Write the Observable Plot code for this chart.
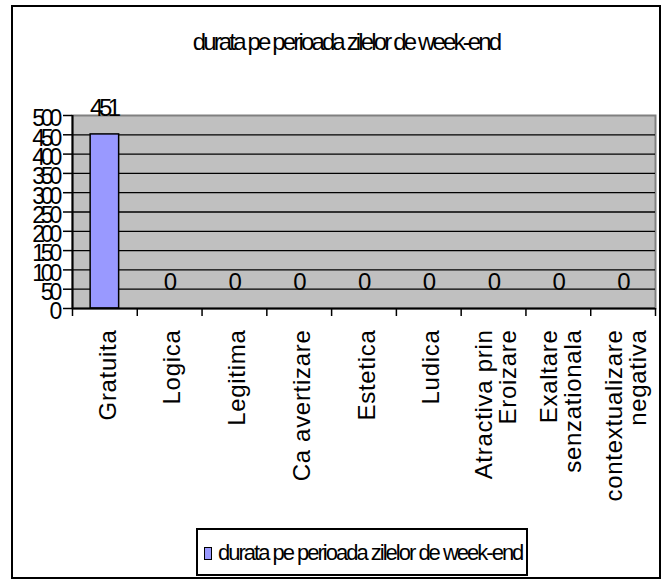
<!DOCTYPE html>
<html>
<head>
<meta charset="utf-8">
<script src="https://cdn.jsdelivr.net/npm/d3@7"></script>
<script src="https://cdn.jsdelivr.net/npm/@observablehq/plot@0.6"></script>
<style>
  html, body { margin: 0; padding: 0; background: white; }
  #wrap { position: relative; width: 666px; height: 583px; overflow: hidden; font-family: "Liberation Sans", Arial, sans-serif; color: black; }
  #chart { position: absolute; left: 0; top: 0; }
  #border { position: absolute; left: 11px; top: 5px; width: 650px; height: 574px; border: 2px solid black; box-sizing: border-box; pointer-events: none; }
  #title { position: absolute; left: 346px; top: 30px; transform: translateX(-50%); white-space: nowrap; font-size: 24px; line-height: 24px; letter-spacing: -2.85px; }
  #legend { position: absolute; left: 196px; top: 528px; width: 332px; height: 48px; border: 2px solid black; box-sizing: border-box; background: white; }
  #legend .sw { position: absolute; left: 6px; top: 16.5px; width: 8px; height: 13px; background: #9999FF; border: 1px solid black; box-sizing: border-box; }
  #legend .lt { position: absolute; left: 20px; top: 12px; white-space: nowrap; font-size: 22px; line-height: 22px; letter-spacing: -2px; }
  g[aria-description="ylabels"] text { letter-spacing: -4.2px; }
  g[aria-description="vlabels"] text { letter-spacing: -4.5px; }
  g[aria-description="xlabels"] text { letter-spacing: 0.7px; }
</style>
</head>
<body>
<div id="wrap">
  <div id="chart"></div>
  <div id="border"></div>
  <div id="title"></div>
  <div id="legend"><div class="sw"></div><div class="lt"></div></div>
</div>
<script>
// ---- data ----
const seriesName = "durata pe perioada zilelor de week-end";
const categories = ["Gratuita", "Logica", "Legitima", "Ca avertizare", "Estetica", "Ludica", "Atractiva prin\nEroizare", "Exaltare\nsenzationala", "contextualizare\nnegativa"];
const values = [451, 0, 0, 0, 0, 0, 0, 0, 0];
const yTicks = [0, 50, 100, 150, 200, 250, 300, 350, 400, 450, 500];

// ---- derived table ----
const rows = categories.map((c, i) => ({i, c, v: values[i]}));
const boundaries = [0, ...rows.map(d => d.i + 1)];

document.getElementById("title").textContent = seriesName;
document.querySelector("#legend .lt").textContent = seriesName;

const chart = Plot.plot({
  width: 666,
  height: 520,
  marginLeft: 72,
  marginRight: 11,
  marginTop: 115,
  marginBottom: 212,
  style: {fontFamily: "'Liberation Sans', Arial, sans-serif", fontSize: "23px", background: "transparent", overflow: "visible", color: "black"},
  x: {domain: [0, categories.length], axis: null},
  y: {domain: [0, 500], axis: null},
  marks: [
    Plot.frame({fill: "#C0C0C0", stroke: "#808080", strokeWidth: 2}),
    Plot.ruleY(yTicks.filter(t => t > 0 && t < 500), {y: d => d, stroke: "black", strokeWidth: 1.3}),
    Plot.rectY(rows.filter(d => d.v > 0), {x1: d => d.i + 0.28, x2: d => d.i + 0.72, y: "v", fill: "#9999FF", stroke: "black", strokeWidth: 1.5}),
    Plot.ruleX([0], {x: d => d, stroke: "black", strokeWidth: 2}),
    Plot.ruleY([0], {y: d => d, stroke: "black", strokeWidth: 2}),
    Plot.ruleY(yTicks, {y: d => d, x1: 0, x2: 0, insetLeft: -9, stroke: "black", strokeWidth: 1.5}),
    Plot.ruleX(boundaries, {x: d => d, y1: 0, y2: 0, insetBottom: -8, stroke: "black", strokeWidth: 1.5}),
    Plot.text(yTicks, {y: d => d, text: d => String(d), frameAnchor: "left", textAnchor: "end", dx: -14.5, dy: 3.5, fontSize: 23, ariaDescription: "ylabels"}),
    Plot.text(rows, {x: d => d.i + 0.5, y: "v", text: d => String(d.v), dx: -1.5, dy: -26, fontSize: 24, ariaDescription: "vlabels"}),
    Plot.text(rows, {x: d => d.i + 0.5, y: 0, text: "c", rotate: -90, textAnchor: "end", lineAnchor: "middle", lineHeight: 1.0, dx: 3, dy: 21, fontSize: 24, ariaDescription: "xlabels"})
  ]
});
document.getElementById("chart").appendChild(chart);
</script>
</body>
</html>
